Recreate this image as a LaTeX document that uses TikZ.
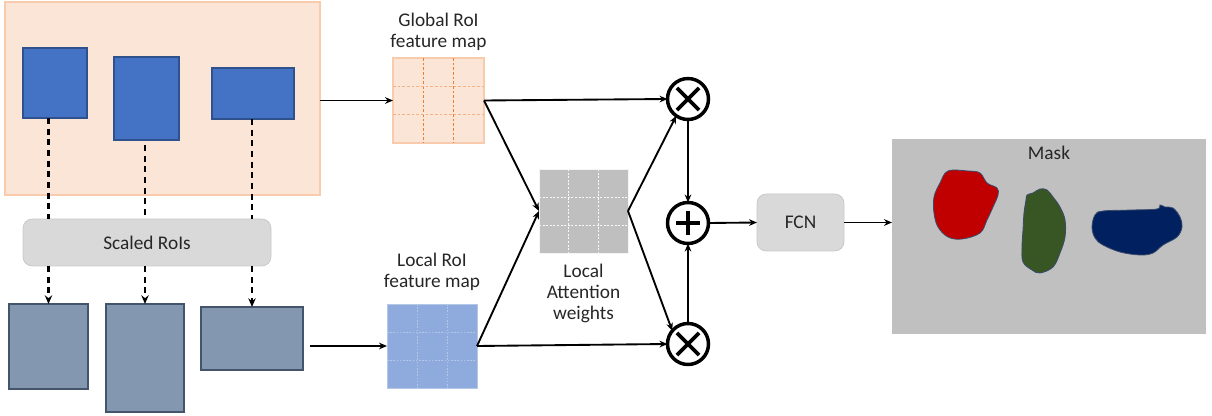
\documentclass[tikz,border=0pt]{standalone}
\usepackage{fontspec}
\setmainfont{Carlito}
\usetikzlibrary{arrows.meta,calc}
\definecolor{peach}{HTML}{FBE5D6}
\definecolor{peachline}{HTML}{F8CBAD}
\definecolor{orangeline}{HTML}{ED7D31}
\definecolor{orangelight}{HTML}{F4B183}
\definecolor{roiblue}{HTML}{4472C4}
\definecolor{roibluedk}{HTML}{2F528F}
\definecolor{slate}{HTML}{8497B0}
\definecolor{slatedk}{HTML}{44546A}
\definecolor{lightblue}{HTML}{8FAADC}
\definecolor{lightblueline}{HTML}{B4C7E7}
\definecolor{boxgray}{HTML}{D9D9D9}
\definecolor{boxgrayline}{HTML}{C9C9C9}
\definecolor{attgray}{HTML}{BFBFBF}
\definecolor{maskgray}{HTML}{C0C0C0}
\definecolor{txt}{HTML}{262626}
\definecolor{redblob}{HTML}{C00000}
\definecolor{greenblob}{HTML}{375623}
\definecolor{blueblob}{HTML}{002060}
\definecolor{blobline}{HTML}{3A4A6A}
\tikzset{
  sz/.style 2 args={minimum width=#1*0.75pt, minimum height=#2*0.75pt, inner sep=0pt, outer sep=0pt},
  lbl/.style={font=\fontsize{14.5pt}{15.5pt}\selectfont, text=txt, align=center, inner sep=0pt},
  roibox/.style={draw=roibluedk, fill=roiblue, line width=0.9pt},
  lowbox/.style={draw=slatedk, fill=slate, line width=0.9pt},
  graybox/.style={draw=boxgrayline, fill=boxgray, rounded corners=7pt, line width=0.6pt, font=\fontsize{14.5pt}{15.5pt}\selectfont, text=txt},
  arr/.style={-{Stealth[length=6pt,width=5pt]}, line width=1.4pt, black},
  dline/.style={line width=1.7pt, dash pattern=on 4.5pt off 3.5pt, black},
  darr/.style={dline, -{Stealth[length=6.5pt,width=5.5pt]}},
  opnode/.style={circle, draw, line width=2.6pt, minimum size=41*0.75pt, inner sep=0pt, outer sep=0pt},
  opline/.style={line width=2.8pt},
}
\begin{document}
\begin{tikzpicture}[x=0.75pt,y=-0.75pt]
\useasboundingbox (0,0) rectangle (1212,416);
% background region
\node[sz={315}{193}, fill=peach, draw=peachline, line width=0.8pt] (bg) at (162.5,98.5) {};
% RoI boxes
\node[roibox, sz={64}{70}] (b1) at (55,83) {};
\node[roibox, sz={65}{83}] (b2) at (146.5,98.5) {};
\node[roibox, sz={82}{51}] (b3) at (253,93.5) {};
% scaled rois
\node[graybox, sz={248}{47}] (scaled) at (147,242.5) {Scaled RoIs};
% lower boxes
\node[lowbox, sz={79}{85}] (lowa) at (48.5,346.5) {};
\node[lowbox, sz={78}{108}] (lowb) at (145,358) {};
\node[lowbox, sz={102}{63}] (lowc) at (252,338.5) {};
% dashed connectors
\draw[dline] (lowa.north |- b1.south) -- (lowa.north |- scaled.north);
\draw[darr] (lowa.north |- scaled.south) -- (lowa.north);
\draw[dline] ([yshift=-5*0.75pt]lowb.north |- b2.south) -- (lowb.north |- scaled.north);
\draw[darr] (lowb.north |- scaled.south) -- (lowb.north);
\draw[dline] (lowc.north |- b3.south) -- (lowc.north |- scaled.north);
\draw[darr] (lowc.north |- scaled.south) -- (lowc.north);
% global feature map
\node[sz={91}{85}, fill=peach, draw=peachline, line width=0.8pt] (gmap) at (438.5,100.5) {};
\foreach \f in {1,2}{
  \draw[orangeline, line width=0.7pt, dash pattern=on 2pt off 1.5pt]
    ($(gmap.north west)!\f/3!(gmap.north east)$) -- ($(gmap.south west)!\f/3!(gmap.south east)$);
  \draw[orangelight, line width=0.7pt, dash pattern=on 2pt off 1.5pt]
    ($(gmap.north west)!\f/3!(gmap.south west)$) -- ($(gmap.north east)!\f/3!(gmap.south east)$);
}
\node[lbl, anchor=south] (glbl) at ([yshift=7*0.75pt]gmap.north) {Global RoI\\feature map};
% local feature map
\node[sz={90}{84}, fill=lightblue, draw=lightblueline, line width=0.6pt] (lmap) at (432,346) {};
\foreach \f in {1,2}{
  \draw[lightblueline, line width=0.6pt, dash pattern=on 1.2pt off 1.2pt]
    ($(lmap.north west)!\f/3!(lmap.north east)$) -- ($(lmap.south west)!\f/3!(lmap.south east)$);
  \draw[lightblueline, line width=0.6pt, dash pattern=on 1.2pt off 1.2pt]
    ($(lmap.north west)!\f/3!(lmap.south west)$) -- ($(lmap.north east)!\f/3!(lmap.south east)$);
}
\node[lbl, anchor=south] (llbl) at ([yshift=13*0.75pt]lmap.north) {Local RoI\\feature map};
% attention map
\node[sz={89}{84}, fill=attgray, draw=white!85!attgray, line width=0.6pt] (att) at (583.5,211) {};
\foreach \f in {1,2}{
  \draw[white!90!attgray, line width=0.6pt, dash pattern=on 1.5pt off 1.2pt]
    ($(att.north west)!\f/3!(att.north east)$) -- ($(att.south west)!\f/3!(att.south east)$);
  \draw[white!90!attgray, line width=0.6pt, dash pattern=on 1.5pt off 1.2pt]
    ($(att.north west)!\f/3!(att.south west)$) -- ($(att.north east)!\f/3!(att.south east)$);
}
\node[lbl, anchor=north] (alb) at ([yshift=-11*0.75pt]att.south) {Local\\Attention\\weights};
% operators
\node[opnode, path picture={
  \draw[opline] ($(path picture bounding box.center)+(-8.3pt,-8.3pt)$) -- ($(path picture bounding box.center)+(8.3pt,8.3pt)$);
  \draw[opline] ($(path picture bounding box.center)+(-8.3pt,8.3pt)$) -- ($(path picture bounding box.center)+(8.3pt,-8.3pt)$);
}] (otop) at (688,99) {};
\node[opnode, path picture={
  \draw[opline] ($(path picture bounding box.center)+(-9pt,0)$) -- ($(path picture bounding box.center)+(9pt,0)$);
  \draw[opline] ($(path picture bounding box.center)+(0,-9pt)$) -- ($(path picture bounding box.center)+(0,9pt)$);
}] (oplus) at (688,223) {};
\node[opnode, path picture={
  \draw[opline] ($(path picture bounding box.center)+(-8.3pt,-8.3pt)$) -- ($(path picture bounding box.center)+(8.3pt,8.3pt)$);
  \draw[opline] ($(path picture bounding box.center)+(-8.3pt,8.3pt)$) -- ($(path picture bounding box.center)+(8.3pt,-8.3pt)$);
}] (obot) at (688,344) {};
% FCN
\node[graybox, sz={87}{57}] (fcn) at (800.5,222.5) {FCN};
% mask panel
\node[sz={314}{195}, fill=maskgray] (mask) at (1049,236.5) {};
\node[lbl, anchor=north] (masklbl) at ([yshift=-7*0.75pt]mask.north) {Mask};
\draw[fill=redblob, draw=blobline, line width=0.6pt] plot[smooth cycle, tension=0.6] coordinates {
  (948,171) (968,171) (980,173) (987,183) (997,188) (998,195) (993,207) (987,220) (980,233)
  (962,239) (948,237) (938,227) (934,213) (934,197) (940,183)};
\draw[fill=greenblob, draw=blobline, line width=0.6pt] plot[smooth cycle, tension=0.6] coordinates {
  (1027,195) (1033,193) (1040,189) (1047,190) (1053,197) (1060,207) (1065,220) (1065,237)
  (1060,253) (1053,267) (1040,273) (1032,270) (1023,262) (1022,247) (1023,230) (1024,213) (1026,200)};
\draw[fill=blueblob, draw=blobline, line width=0.6pt] plot[smooth cycle, tension=0.6] coordinates {
  (1103,211) (1133,210) (1157,209) (1160,205) (1165,207) (1173,208) (1180,217) (1182,227)
  (1177,237) (1163,245) (1153,253) (1140,255) (1120,252) (1103,245) (1095,238) (1092,227) (1095,215)};
% connectors
\draw[arr] (bg.east |- gmap.west) -- (gmap.west);
\draw[arr] ([xshift=7*0.75pt]lowc.east |- lmap.west) -- (lmap.west);
\draw[arr] (gmap.east) -- (otop.west);
\draw[arr] (gmap.east) -- (att.west);
\draw[arr] (lmap.east) -- (att.west);
\draw[arr] (lmap.east) -- (obot.west);
\draw[arr] (att.east) -- (otop.235);
\draw[arr] (att.east) -- (obot.140);
\draw[arr] (otop.south) -- (oplus.north);
\draw[arr] (obot.north) -- (oplus.south);
\draw[arr] (oplus.east) -- (fcn.west);
\draw[arr] (fcn.east) -- (fcn.east -| mask.west);
\end{tikzpicture}
\end{document}
